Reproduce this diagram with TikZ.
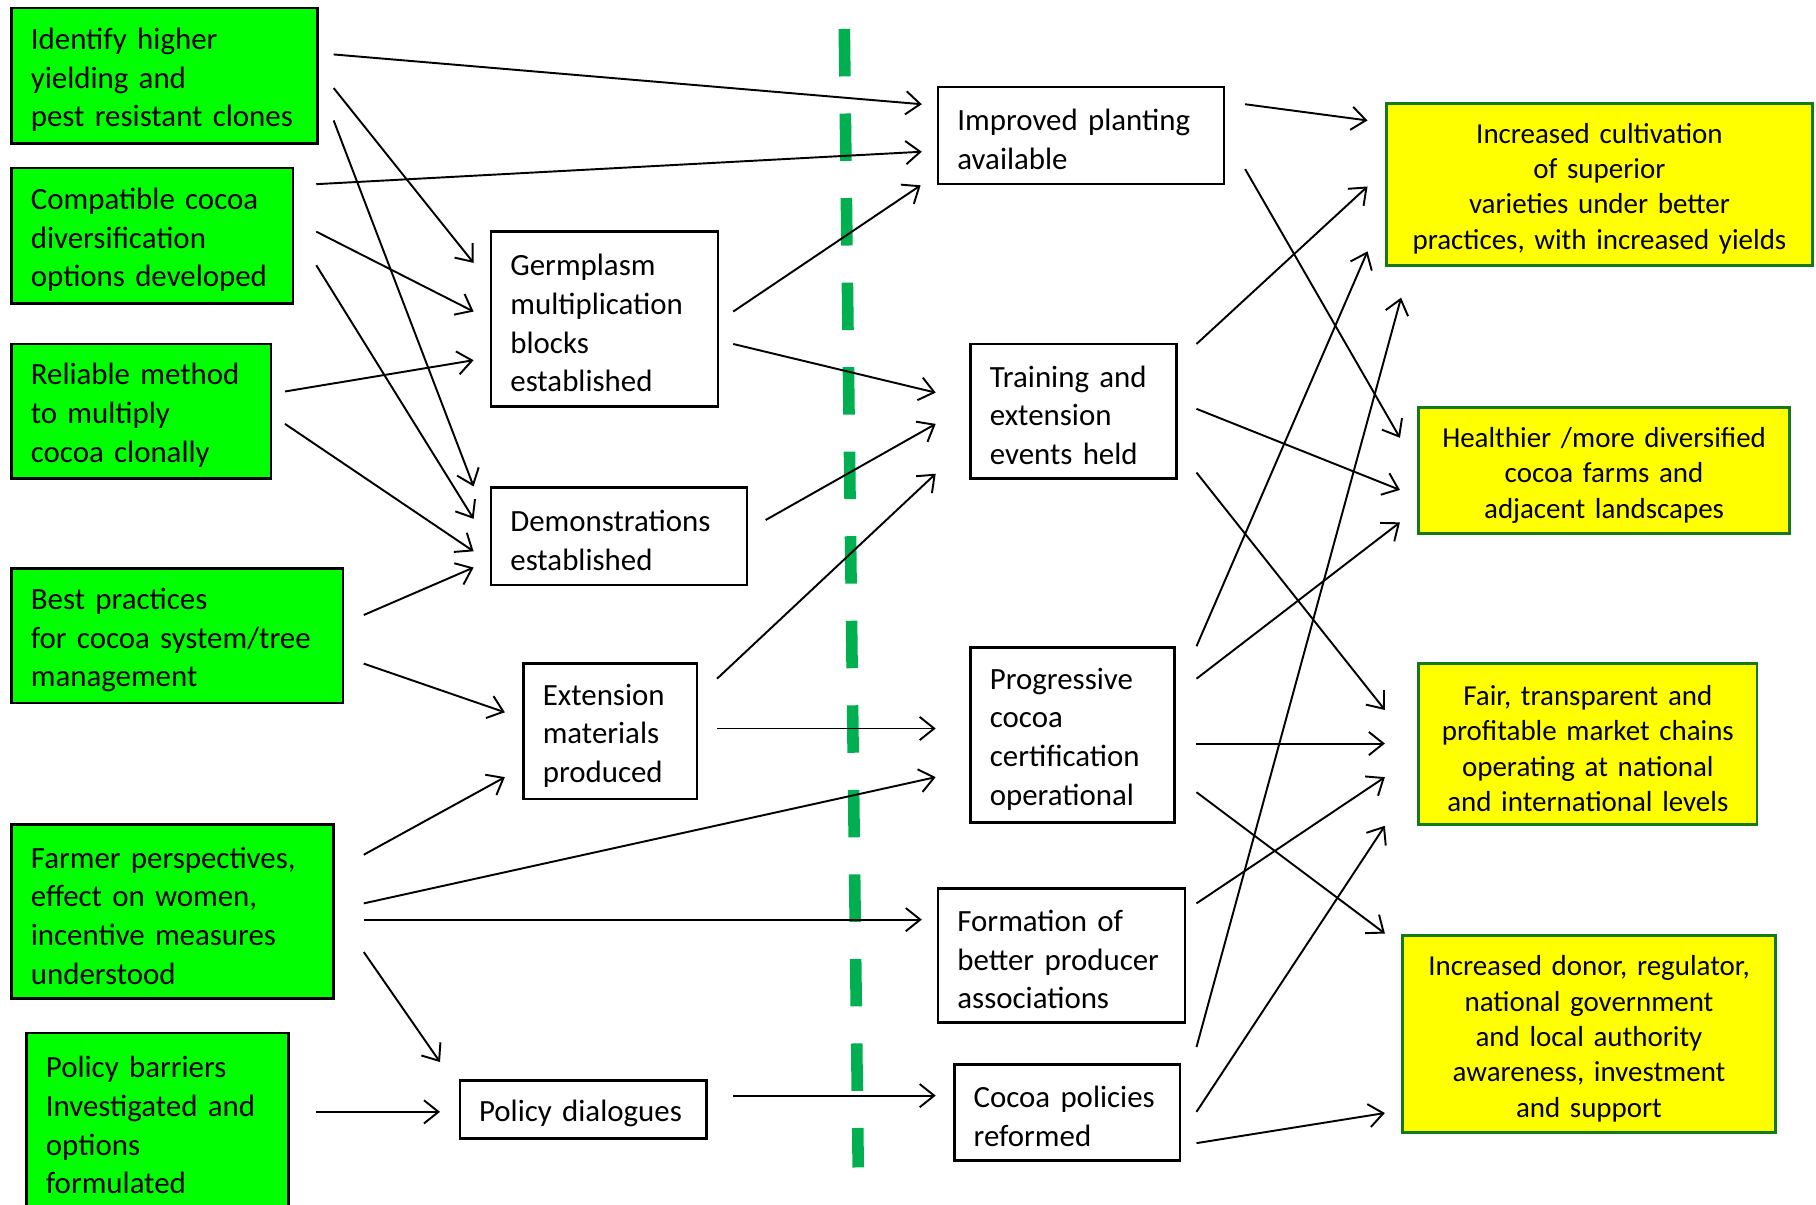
\documentclass[tikz,border=0pt]{standalone}
\usepackage{fontspec}
\setmainfont{Carlito}
\usetikzlibrary{arrows.meta}
\definecolor{boxgreen}{RGB}{0,255,0}
\definecolor{outyellow}{RGB}{255,255,0}
\definecolor{outborder}{RGB}{20,120,20}
\definecolor{dashgreen}{RGB}{0,176,80}
\begin{document}
\begin{tikzpicture}[x=0.6pt,y=-0.6pt,
  gbox/.style={draw=black, line width=1.3pt, fill=boxgreen, align=left, inner xsep=10pt, inner ysep=0pt, font=\fontsize{16}{20}\selectfont, execute at begin node={\rule{0pt}{15.4pt}}},
  wbox/.style={draw=black, line width=1.3pt, fill=white, align=left, inner xsep=10pt, inner ysep=0pt, font=\fontsize{16}{20}\selectfont, execute at begin node={\rule{0pt}{15.4pt}}},
  ybox/.style={draw=outborder, line width=1.5pt, fill=outyellow, align=center, inner xsep=4pt, inner ysep=0pt, font=\fontsize{15}{18.3}\selectfont, execute at begin node={\rule{0pt}{15pt}}},
  arr/.style={-{Straight Barb[length=7.5pt,width=12pt]}, line width=1pt},
  dashline/.style={draw=dashgreen, line width=6pt, dash pattern=on 24.6pt off 19.2pt}
]
\useasboundingbox (0,0) rectangle (1568,1040);
\fill[white] (0,0) rectangle (1568,1040);
\clip (0,0) rectangle (1568,1040);

% dashed boundary line
\draw[dashline] (729,25) -- (741,1008);

% left column (green)
\node[gbox, minimum width=158.4pt, text width=138.4pt, minimum height=70.2pt] (g1) at (142,65.5) {Identify higher\\yielding and\\pest resistant clones};
\node[gbox, minimum width=145.8pt, text width=125.8pt, minimum height=70.2pt] (g2) at (131.5,203.5) {Compatible cocoa\\diversification\\options developed};
\node[gbox, minimum width=134.4pt, text width=114.4pt, minimum height=69.6pt] (g3) at (122,355) {Reliable method\\to multiply\\cocoa clonally};
\node[gbox, minimum width=171.6pt, text width=151.6pt, minimum height=69.6pt] (g4) at (153,549) {Best practices\\for cocoa system/tree\\management};
\node[gbox, minimum width=166.8pt, text width=146.8pt, minimum height=90pt] (g5) at (149,787) {Farmer perspectives,\\effect on women,\\incentive measures\\understood};
\node[gbox, minimum width=135.6pt, text width=115.6pt, minimum height=91.2pt] (g6) at (136,968) {Policy barriers\\Investigated and\\options\\formulated};

% middle column (white)
\node[wbox, minimum width=117.6pt, text width=97.6pt, minimum height=90.6pt] (w1) at (522,275.5) {Germplasm\\multiplication\\blocks\\established};
\node[wbox, minimum width=132.6pt, text width=112.6pt, minimum height=50.4pt] (w2) at (534.5,463) {Demonstrations\\established};
\node[wbox, minimum width=90pt, text width=70pt, minimum height=70.2pt] (w3) at (527,631.5) {Extension\\materials\\produced};
\node[wbox, minimum width=127.8pt, text width=107.8pt, minimum height=30pt] (w4) at (503.5,958) {Policy dialogues};

% outputs (white)
\node[wbox, minimum width=148.2pt, text width=128.2pt, minimum height=50.4pt] (w5) at (933.5,117) {Improved planting\\available};
\node[wbox, minimum width=106.8pt, text width=86.8pt, minimum height=69.6pt] (w6) at (927,355) {Training and\\extension\\events held};
\node[wbox, minimum width=105.6pt, text width=85.6pt, minimum height=90.6pt] (w7) at (926,634.5) {Progressive\\cocoa\\certification\\operational};
\node[wbox, minimum width=127.8pt, text width=107.8pt, minimum height=69.6pt] (w8) at (916.5,825) {Formation of\\better producer\\associations};
\node[wbox, minimum width=117pt, text width=97pt, minimum height=49.8pt] (w9) at (921.5,960.5) {Cocoa policies\\reformed};

% outcomes (yellow)
\node[ybox, minimum width=220.8pt, text width=212.8pt, minimum height=84pt] (y1) at (1381,159) {Increased cultivation\\of superior\\varieties under better\\practices, with increased yields};
\node[ybox, minimum width=192pt, text width=184pt, minimum height=65.4pt] (y2) at (1385,406.5) {Healthier /more diversified\\cocoa farms and\\adjacent landscapes};
\node[ybox, minimum width=175.2pt, text width=167.2pt, minimum height=83.4pt] (y3) at (1371,642.5) {Fair, transparent and\\profitable market chains\\operating at national\\and international levels};
\node[ybox, minimum width=193.2pt, text width=185.2pt, minimum height=102pt] (y4) at (1372,893) {Increased donor, regulator,\\national government\\and local authority\\awareness, investment\\and support};

% connectors: inputs -> activities / outputs
\draw[arr] ([shift={(13,-18.5)}]g1.east) -- ([shift={(-13,-27)}]w5.west);
\draw[arr] ([shift={(13,10.5)}]g1.east) -- ([shift={(-14,-48.5)}]w1.west);
\draw[arr] ([shift={(13,38.5)}]g1.east) -- ([shift={(-14,-43)}]w2.west);
\draw[arr] ([shift={(19,-44.5)}]g2.east) -- ([shift={(-13,14)}]w5.west);
\draw[arr] ([shift={(19,-3.5)}]g2.east) -- ([shift={(-14,-6.5)}]w1.west);
\draw[arr] ([shift={(19,25.5)}]g2.east) -- ([shift={(-14,-15)}]w2.west);
\draw[arr] ([shift={(11,-17)}]g3.east) -- ([shift={(-14,35.5)}]w1.west);
\draw[arr] ([shift={(11,11)}]g3.east) -- ([shift={(-14,13)}]w2.west);
\draw[arr] ([shift={(17,-18)}]g4.east) -- ([shift={(-14,27)}]w2.west);
\draw[arr] ([shift={(17,24)}]g4.east) -- ([shift={(-15,-16.5)}]w3.west);
\draw[arr] ([shift={(25,-49)}]g5.east) -- ([shift={(-15,39.5)}]w3.west);
\draw[arr] ([shift={(25,-7)}]g5.east) -- ([shift={(-29,36.5)}]w7.west);
\draw[arr] ([shift={(25,7)}]g5.east) -- ([shift={(-13,-31)}]w8.west);
\draw[arr] ([shift={(25,35)}]g5.east) -- ([shift={(-16,-41)}]w4.west);
\draw[arr] ([shift={(23,-8)}]g6.east) -- ([shift={(-16,2)}]w4.west);

% activities -> outputs
\draw[arr] ([shift={(12,-6.5)}]w1.east) -- ([shift={(-14,43)}]w5.west);
\draw[arr] ([shift={(12,21.5)}]w1.east) -- ([shift={(-29,-16)}]w6.west);
\draw[arr] ([shift={(15,-14)}]w2.east) -- ([shift={(-29,11)}]w6.west);
\draw[arr] ([shift={(16,-45.5)}]w3.east) -- ([shift={(-29,54)}]w6.west);
\draw[arr] ([shift={(16,-2.5)}]w3.east) -- ([shift={(-29,-5.5)}]w7.west);
\draw[arr] ([shift={(22,-12)}]w4.east) -- ([shift={(-15,-14.5)}]w9.west);

% outputs -> outcomes
\draw[arr] ([shift={(17,-27)}]w5.east) -- ([shift={(-15,-55)}]y1.west);
\draw[arr] ([shift={(17,29)}]w5.east) -- ([shift={(-15,-28.5)}]y2.west);
\draw[arr] ([shift={(16,-58)}]w6.east) -- ([shift={(-15,2)}]y1.west);
\draw[arr] ([shift={(16,-2)}]w6.east) -- ([shift={(-15,16.5)}]y2.west);
\draw[arr] ([shift={(16,53)}]w6.east) -- ([shift={(-28,-29.5)}]y3.west);
\draw[arr] ([shift={(18,-76.5)}]w7.east) -- ([shift={(-15,58)}]y1.west);
\draw[arr] ([shift={(18,-48.5)}]w7.east) -- ([shift={(-15,44.5)}]y2.west);
\draw[arr] ([shift={(18,7.5)}]w7.east) -- ([shift={(-28,-0.5)}]y3.west);
\draw[arr] ([shift={(18,49.5)}]w7.east) -- ([shift={(-14,-87)}]y4.west);
\draw[arr] ([shift={(9,-45)}]w8.east) -- ([shift={(-28,28.5)}]y3.west);
\draw[arr] ([shift={(13,-56.5)}]w9.east) -- ([shift={(14,98)}]y1.west);
\draw[arr] ([shift={(13,-0.5)}]w9.east) -- ([shift={(-28,70.5)}]y3.west);
\draw[arr] ([shift={(13,26.5)}]w9.east) -- ([shift={(-14,68)}]y4.west);
\end{tikzpicture}
\end{document}
